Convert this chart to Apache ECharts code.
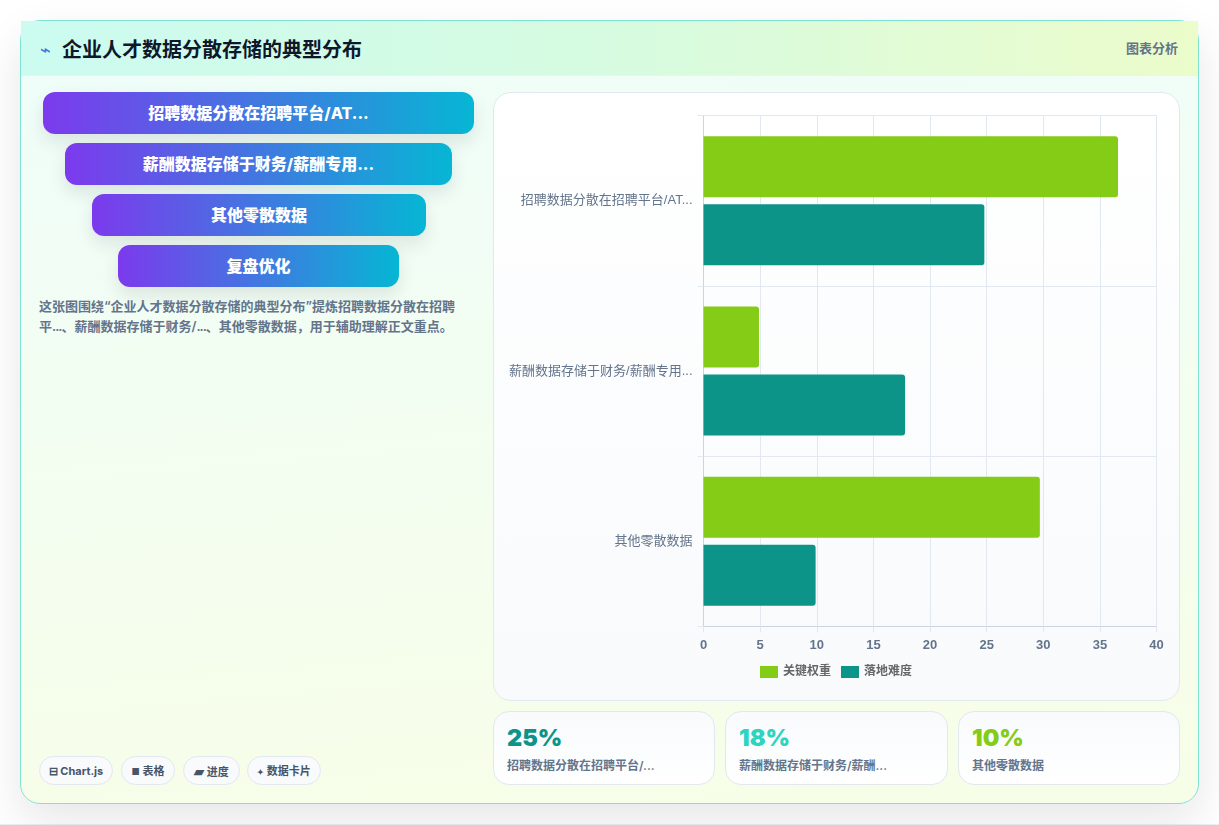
<!DOCTYPE html>
<html lang="zh-CN">
<head>
<meta charset="utf-8">
<title>企业人才数据分散存储的典型分布</title>
<script src="https://cdn.jsdelivr.net/npm/echarts@6/dist/echarts.min.js"></script>
<style>
  html, body { margin: 0; padding: 0; background: #fff; width: 1219px; height: 825px; overflow: hidden; }
  body { position: relative; font-family: Inter, "Noto Sans CJK SC", sans-serif; }
  .floor { position: absolute; left: 0; top: 824px; width: 1219px; height: 1px; background: #eceef2; }
  .panel {
    position: absolute; left: 20px; top: 20px; width: 1177px; height: 782px;
    border: 1px solid #7fe3d2; border-radius: 20px;
    background: linear-gradient(175deg, #effdfa 0%, #f7fee7 100%);
    box-shadow: 0 18px 45px rgba(15, 23, 42, 0.10);
  }
  .head {
    position: absolute; left: 21px; top: 21px; width: 1177px; height: 55px;
    background: linear-gradient(90deg, #ccfbf1 0%, #d6fbe0 50%, #ecfccb 100%);
    border-bottom: 1px solid #e6f5ee; box-sizing: border-box;
  }
  .glyph { position: absolute; left: 40px; top: 41px; font-size: 18px; line-height: 18px; color: #3b6fe0; font-weight: 400; }
  .title { position: absolute; left: 62px; top: 36px; font-size: 20px; line-height: 28px; font-weight: 700; color: #0f172a; white-space: nowrap; }
  .tag { position: absolute; right: 41px; top: 39px; font-size: 13px; line-height: 18px; font-weight: 600; color: #64748b; }
  .step {
    position: absolute; height: 42px; border-radius: 12px; color: #fff; font-size: 16px; font-weight: 800;
    line-height: 43px; text-align: center; white-space: nowrap;
    background: linear-gradient(90deg, #7c3aed, #06b6d4);
    box-shadow: 0 8px 18px rgba(15, 23, 42, 0.10);
  }
  .note { position: absolute; left: 39px; top: 296px; width: 432px; font-size: 13px; line-height: 20px; font-weight: 600; color: #64748b; }
  .note i { font-style: normal; letter-spacing: -1px; }
  .chip {
    position: absolute; top: 756px; height: 29px; box-sizing: border-box; border: 1px solid #e2e8f0; border-radius: 15px;
    background: #f8fafc; font-size: 11px; line-height: 28px; font-weight: 700; color: #475569; text-align: center; white-space: nowrap;
  }
  .plot-card {
    position: absolute; left: 493px; top: 92px; width: 687px; height: 609px; box-sizing: border-box;
    border: 1px solid #e2e8f0; border-radius: 18px; background: linear-gradient(180deg, #ffffff, #f8fafc);
  }
  #chart { position: absolute; left: 494px; top: 93px; width: 685px; height: 607px; }
  .stat {
    position: absolute; top: 711px; height: 74px; box-sizing: border-box; border: 1px solid #e2e8f0; border-radius: 16px;
    background: linear-gradient(180deg, #f8fafc, #ffffff);
  }
  .stat b { position: absolute; left: 13px; top: 11px; font-size: 23.5px; line-height: 30px; font-weight: 900; }
  .stat span { position: absolute; left: 13px; top: 45px; font-size: 12px; line-height: 18px; font-weight: 600; color: #64748b; white-space: nowrap; }
</style>
</head>
<body>
<div class="floor"></div>
<div class="panel"></div>
<div class="head"></div>
<div class="glyph">⌁</div>
<div class="title">企业人才数据分散存储的典型分布</div>
<div class="tag">图表分析</div>
<div id="steps"></div>
<div class="note">这张图围绕“企业人才数据分散存储的典型分布”提炼招聘数据分散在招聘平<i>...</i>、薪酬数据存储于财务/<i>...</i>、其他零散数据，用于辅助理解正文重点。</div>
<div id="chips"></div>
<div class="plot-card"></div>
<div id="chart"></div>
<div id="stats"></div>
<script>
  // Chart data
  const categories = ['招聘数据分散在招聘平台/AT...', '薪酬数据存储于财务/薪酬专用...', '其他零散数据'];
  const weightValues = [36.6, 4.9, 29.7];
  const difficultyValues = [24.8, 17.8, 9.9];
  const seriesNames = ['关键权重', '落地难度'];

  // Side content
  const stepLabels = ['招聘数据分散在招聘平台/AT...', '薪酬数据存储于财务/薪酬专用...', '其他零散数据', '复盘优化'];
  const stepBoxes = [[43, 92, 431], [65, 143, 387], [92, 194, 334], [118, 245, 281]];
  const chipGlyphs = ['⊟', '■', '▰', '✦'];
  const chipGlyphSizes = [11, 9, 13, 8];
  const chipLabels = ['Chart.js', '表格', '进度', '数据卡片'];
  const chipBoxes = [[39, 74], [121, 54], [183, 57], [247, 74]];
  const statValues = ['25%', '18%', '10%'];
  const statLabels = ['招聘数据分散在招聘平台/...', '薪酬数据存储于财务/薪酬...', '其他零散数据'];
  const statColors = ['#0d9488', '#2dd4bf', '#84cc16'];
  const statBoxes = [[493, 222], [725, 223], [958, 222]];

  const addBox = (parentId, cls, css, html) => {
    const el = document.createElement('div');
    el.className = cls;
    el.style.cssText = css;
    el.innerHTML = html;
    document.getElementById(parentId).appendChild(el);
  };
  stepLabels.forEach((t, i) => {
    const [l, top, w] = stepBoxes[i];
    addBox('steps', 'step', `left:${l}px;top:${top}px;width:${w}px`, t);
  });
  chipLabels.forEach((t, i) => {
    const [l, w] = chipBoxes[i];
    addBox('chips', 'chip', `left:${l}px;width:${w}px`,
      `<span style="font-size:${chipGlyphSizes[i]}px">${chipGlyphs[i]}</span> ${t}`);
  });
  statValues.forEach((v, i) => {
    const [l, w] = statBoxes[i];
    addBox('stats', 'stat', `left:${l}px;width:${w}px`,
      `<b style="color:${statColors[i]}">${v}</b><span>${statLabels[i]}</span>`);
  });

  const axisFont = '"Liberation Sans", "Noto Sans CJK SC", sans-serif';
  const chart = echarts.init(document.getElementById('chart'));
  const barStyle = color => ({ color, borderRadius: [0, 3, 3, 0] });
  chart.setOption({
    animation: false,
    textStyle: { fontFamily: axisFont },
    legend: {
      left: 261, top: 568, itemWidth: 18, itemHeight: 12, itemGap: 10,
      icon: 'rect', data: seriesNames,
      textStyle: { color: '#666', fontSize: 12, fontWeight: 600, fontFamily: axisFont }
    },
    grid: { left: 209.5, right: 22.5, top: 22.5, bottom: 73.5, containLabel: false },
    xAxis: {
      type: 'value', min: 0, max: 40, interval: 5,
      axisLine: { show: true, lineStyle: { color: '#cbd5e1' } },
      axisTick: { show: true, length: 6, lineStyle: { color: '#e2e8f0' } },
      axisLabel: { color: '#64748b', fontSize: 13, fontWeight: 700, margin: 12, fontFamily: axisFont },
      splitLine: { show: true, lineStyle: { color: '#e2e8f0' } }
    },
    yAxis: {
      type: 'category', inverse: true, data: categories,
      axisLine: { show: true, lineStyle: { color: '#cbd5e1' } },
      axisTick: { show: true, length: 6, lineStyle: { color: '#e2e8f0' } },
      axisLabel: { color: '#64748b', fontSize: 13, margin: 11, padding: [0, 0, 2, 0], fontFamily: axisFont },
      splitLine: { show: true, lineStyle: { color: '#e2e8f0' } }
    },
    series: [
      { name: seriesNames[0], type: 'bar', data: weightValues, barWidth: 61, barGap: '11.5%', itemStyle: barStyle('#84cc16') },
      { name: seriesNames[1], type: 'bar', data: difficultyValues, barWidth: 61, itemStyle: barStyle('#0d9488') }
    ]
  });
</script>
</body>
</html>
